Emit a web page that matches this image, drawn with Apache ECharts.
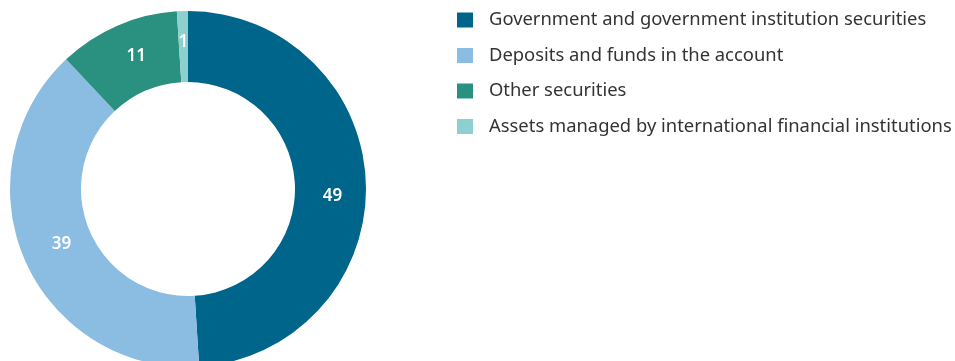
<!DOCTYPE html>
<html>
<head>
<meta charset="utf-8">
<script src="https://cdn.jsdelivr.net/npm/echarts@6/dist/echarts.min.js"></script>
<style>
  html, body { margin: 0; padding: 0; background: #fff; }
  #chart { width: 955px; height: 361px; }
</style>
</head>
<body>
<div id="chart"></div>
<script>
// Portfolio structure by asset type, percent
const categories = [
  'Government and government institution securities',
  'Deposits and funds in the account',
  'Other securities',
  'Assets managed by international financial institutions'
];
const shares = [49, 39, 11, 1];
const colors = ['#00658a', '#8bbde3', '#2a9080', '#8ecfd0'];
// small nudges for the in-ring value labels
const labelNudges = [[-1, 12], [7, -3], [6, 1], [0, -1]];

const chart = echarts.init(document.getElementById('chart'), null, { renderer: 'canvas' });
chart.setOption({
  animation: false,
  color: colors,
  legend: {
    orient: 'vertical',
    left: 452,
    top: 6,
    itemWidth: 16,
    itemHeight: 15,
    itemGap: 17.5,
    icon: 'rect',
    textStyle: { fontFamily: 'Noto Sans', fontSize: 18.4, lineHeight: 18, color: '#333333', padding: [0, 0, 0, 11] },
    data: categories
  },
  series: [{
    type: 'pie',
    center: [188, 189],
    radius: [107, 178],
    startAngle: 90,
    clockwise: true,
    avoidLabelOverlap: false,
    label: {
      show: true,
      position: 'inside',
      formatter: '{c}',
      color: '#ffffff',
      fontFamily: 'Noto Sans',
      fontWeight: 600,
      fontSize: 17
    },
    labelLine: { show: false },
    itemStyle: { borderWidth: 0 },
    emphasis: { disabled: true },
    data: categories.map((name, i) => ({
      name,
      value: shares[i],
      label: { offset: labelNudges[i] }
    }))
  }]
});
</script>
</body>
</html>
